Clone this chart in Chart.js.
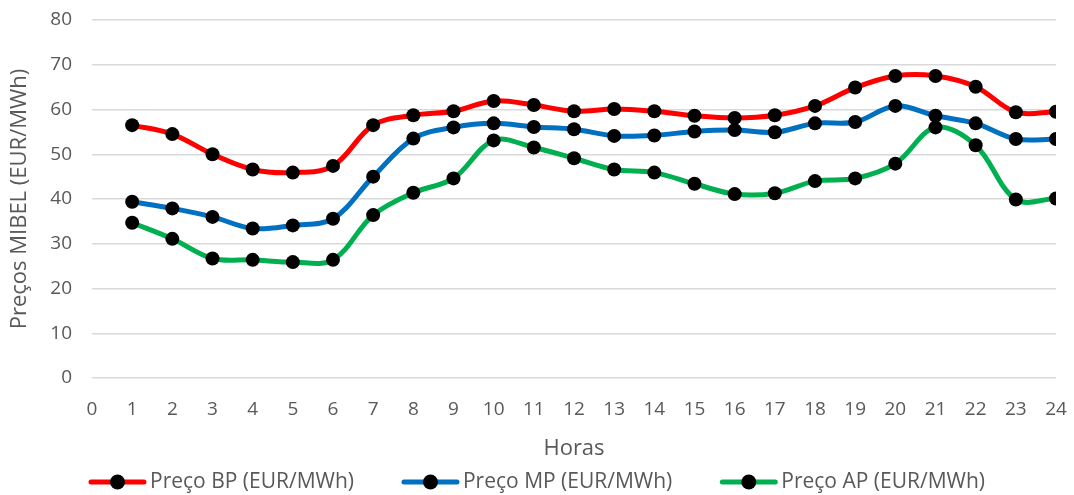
<!DOCTYPE html>
<html>
<head>
<meta charset="utf-8">
<script src="https://cdn.jsdelivr.net/npm/chart.js@4/dist/chart.umd.min.js"></script>
<style>
  html, body { margin: 0; padding: 0; background: #ffffff; }
  #wrap { width: 1074px; height: 495px; }
</style>
</head>
<body>
<div id="wrap"><canvas id="grafico" width="1074" height="495"></canvas></div>
<script>
// Hourly MIBEL prices (EUR/MWh) for the three price levels
const horas = [1, 2, 3, 4, 5, 6, 7, 8, 9, 10, 11, 12, 13, 14, 15, 16, 17, 18, 19, 20, 21, 22, 23, 24];
const precoBP = [56.5, 54.5, 50.0, 46.6, 45.9, 47.4, 56.5, 58.7, 59.6, 61.9, 61.0, 59.6, 60.1, 59.6, 58.6, 58.1, 58.7, 60.8, 64.9, 67.5, 67.5, 65.1, 59.4, 59.5];
const precoMP = [39.4, 37.9, 36.0, 33.4, 34.1, 35.6, 45.0, 53.5, 56.0, 56.9, 56.1, 55.6, 54.1, 54.2, 55.1, 55.4, 54.9, 56.9, 57.2, 60.8, 58.6, 56.9, 53.4, 53.4];
const precoAP = [34.7, 31.1, 26.7, 26.4, 25.9, 26.4, 36.4, 41.4, 44.6, 53.1, 51.5, 49.1, 46.6, 45.9, 43.4, 41.1, 41.3, 44.0, 44.6, 47.9, 56.0, 52.0, 39.9, 40.1];
const ticksY = [0, 10, 20, 30, 40, 50, 60, 70, 80];

const rotulos = ['Preço BP (EUR/MWh)', 'Preço MP (EUR/MWh)', 'Preço AP (EUR/MWh)'];
const cores = ['#ff0000', '#0070c0', '#00b050'];

const corTexto = '#595959';
const fonte = '"Open Sans", "Noto Sans", sans-serif';

function serie(valores) {
  return horas.map((h, i) => ({ x: h, y: valores[i] }));
}

function conjunto(i, valores, ordem) {
  return {
    label: rotulos[i],
    data: serie(valores),
    borderColor: cores[i],
    backgroundColor: cores[i],
    borderWidth: 5,
    tension: 0.35,
    pointRadius: 7,
    pointHoverRadius: 7,
    pointBackgroundColor: '#000000',
    pointBorderColor: '#000000',
    pointBorderWidth: 0,
    fill: false,
    order: ordem
  };
}

// Legend drawn under the axis: line sample with a dot, then the label
const legendaLinhas = {
  id: 'legendaLinhas',
  afterDraw(chart) {
    const ctx = chart.ctx;
    const amostra = 57, espacoTexto = 4, espacoItens = 48, yc = 482;
    ctx.save();
    ctx.font = '21px ' + fonte;
    const itens = chart.data.datasets.map(ds => ({ ds, w: ctx.measureText(ds.label).width }));
    const total = itens.reduce((s, it) => s + amostra + espacoTexto + it.w, 0) + espacoItens * (itens.length - 1);
    let x = (chart.width - total) / 2;
    itens.forEach(it => {
      ctx.strokeStyle = it.ds.borderColor;
      ctx.lineWidth = 5;
      ctx.lineCap = 'round';
      ctx.beginPath();
      ctx.moveTo(x + 2, yc);
      ctx.lineTo(x + amostra - 2, yc);
      ctx.stroke();
      ctx.fillStyle = '#000000';
      ctx.beginPath();
      ctx.arc(x + amostra / 2, yc, 7.5, 0, Math.PI * 2);
      ctx.fill();
      ctx.fillStyle = corTexto;
      ctx.textAlign = 'left';
      ctx.textBaseline = 'middle';
      ctx.fillText(it.ds.label, x + amostra + espacoTexto, yc);
      x += amostra + espacoTexto + it.w + espacoItens;
    });
    ctx.restore();
  }
};

new Chart(document.getElementById('grafico'), {
  type: 'line',
  data: {
    datasets: [
      conjunto(0, precoBP, 3),
      conjunto(1, precoMP, 2),
      conjunto(2, precoAP, 1)
    ]
  },
  options: {
    responsive: false,
    animation: false,
    layout: { padding: { left: 0, right: 18, top: 20, bottom: 37 } },
    plugins: {
      legend: { display: false },
      tooltip: { enabled: false }
    },
    scales: {
      x: {
        type: 'linear',
        min: 0,
        max: 24,
        afterFit(scale) {
          scale.height = 80;
          scale.paddingLeft = 0;
          scale.paddingRight = 0;
        },
        grid: { display: false, drawTicks: false },
        border: { display: false },
        ticks: {
          stepSize: 1,
          autoSkip: false,
          maxRotation: 0,
          padding: 20,
          color: corTexto,
          font: { family: fonte, size: 19 }
        },
        title: {
          display: true,
          text: 'Horas',
          color: corTexto,
          padding: { top: 0, bottom: -4 },
          font: { family: fonte, size: 22 }
        }
      },
      y: {
        min: 0,
        max: 80,
        afterFit(scale) {
          scale.width = 92;
          scale.paddingTop = 0;
          scale.paddingBottom = 0;
        },
        afterBuildTicks(scale) { scale.ticks = ticksY.map(v => ({ value: v })); },
        grid: { color: '#d9d9d9', lineWidth: 1.5, drawTicks: false },
        border: { display: false },
        ticks: {
          padding: 20,
          color: corTexto,
          font: { family: fonte, size: 19 }
        },
        title: {
          display: true,
          text: 'Preços MIBEL (EUR/MWh)',
          color: corTexto,
          padding: { top: 7, bottom: 0 },
          font: { family: fonte, size: 22 }
        }
      }
    }
  },
  plugins: [legendaLinhas]
});
</script>
</body>
</html>
